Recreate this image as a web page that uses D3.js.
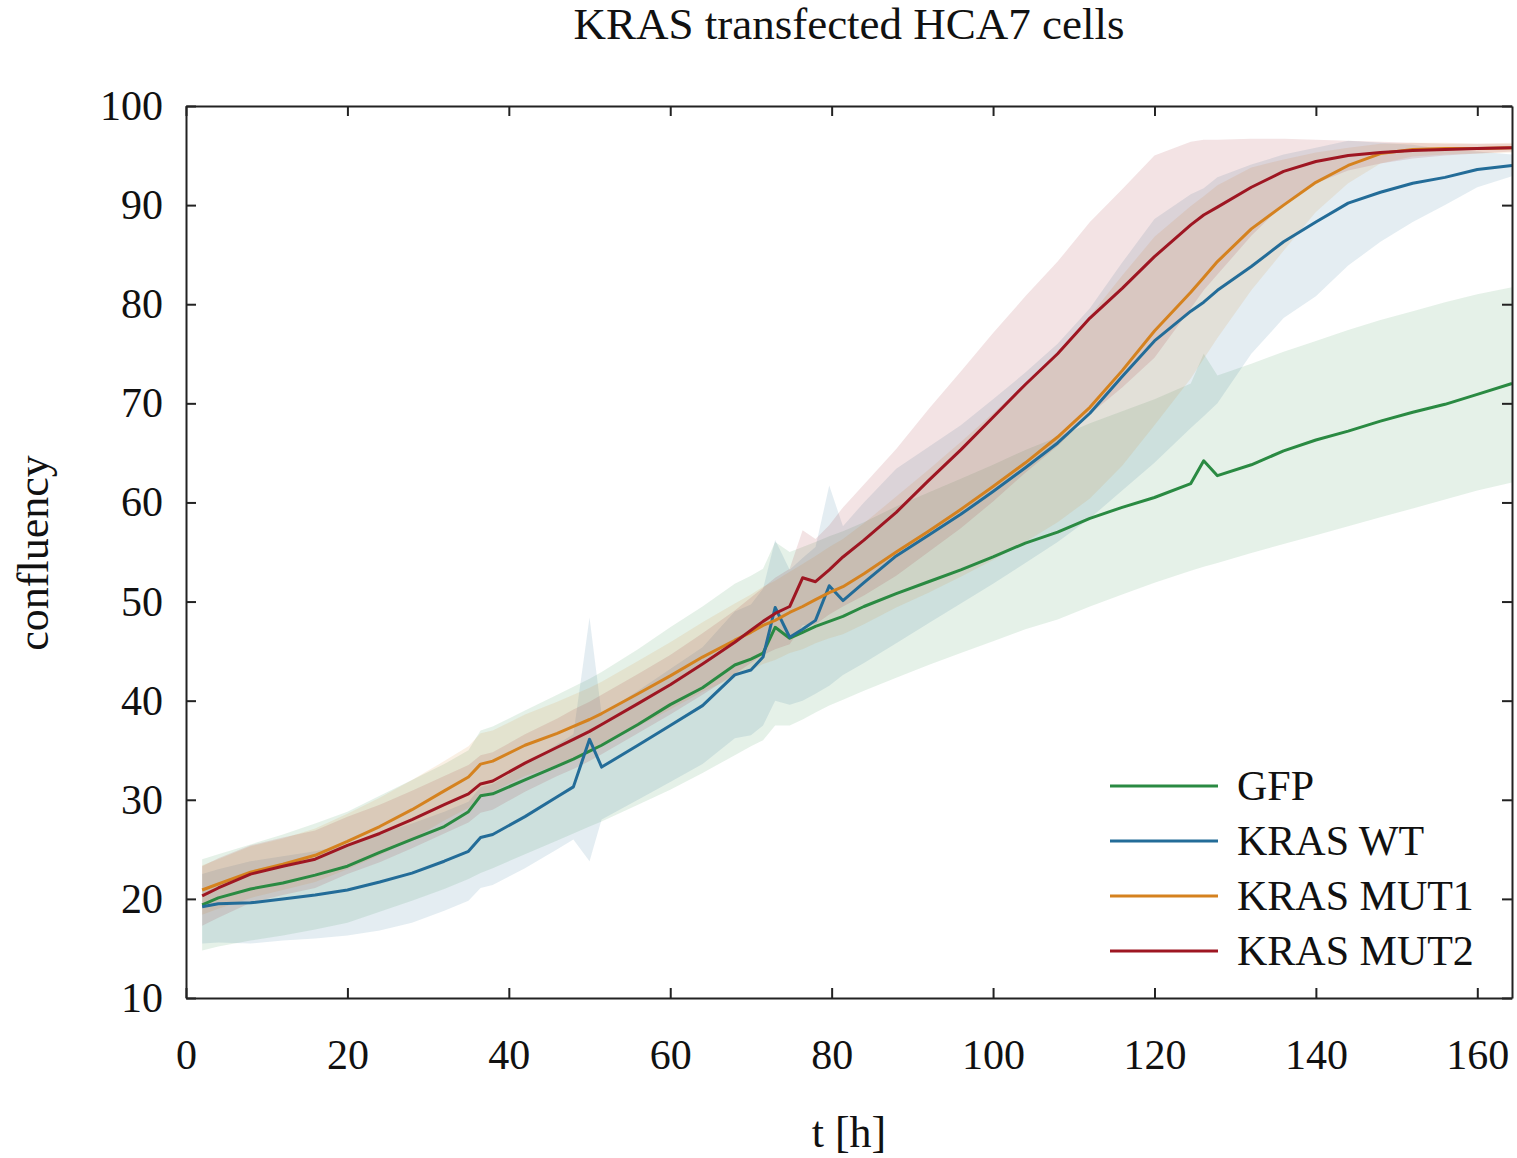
<!DOCTYPE html>
<html>
<head>
<meta charset="utf-8">
<script src="https://cdn.jsdelivr.net/npm/d3@7"></script>
<style>
  body { margin: 0; background: #fff; }
  svg text { font-family: "Palatino Linotype", Palatino, "Liberation Serif", serif; fill: #111; }
</style>
</head>
<body>
<div id="chart"></div>
<script>
// time points (h)
var times = [2, 4, 8, 12, 16, 20, 24, 28, 32, 35, 36.5, 38, 42, 46, 48, 50, 51.5, 56, 60, 64,
  68, 70, 71.5, 73, 74.8, 76.4, 78, 79.7, 81.4, 84, 88, 92, 96, 100, 104, 108, 112, 116, 120, 124.5,
  126.1, 127.8, 132, 136, 140, 144, 148, 152, 156, 160, 164.3];

// GFP
var gfpMean = [19.4, 20.1, 21.0, 21.6, 22.4, 23.3, 24.7, 26.0, 27.3, 28.8, 30.4, 30.6, 32.0, 33.4, 34.1, 34.9, 35.5, 37.6, 39.6, 41.3,
  43.6, 44.2, 44.8, 47.4, 46.3, 46.9, 47.5, 48.0, 48.5, 49.5, 50.8, 52.0, 53.2, 54.5, 55.9, 57.0, 58.4, 59.5, 60.5, 61.9,
  64.2, 62.7, 63.8, 65.2, 66.3, 67.2, 68.2, 69.1, 69.9, 70.9, 72.0];
var gfpLow = [14.8, 15.2, 15.8, 16.3, 16.9, 17.6, 18.7, 19.8, 21.0, 22.0, 22.6, 23.1, 24.5, 25.9, 26.6, 27.3, 27.8, 29.5, 31.0, 32.7,
  34.5, 35.4, 36.0, 37.5, 37.5, 38.1, 38.8, 39.5, 40.1, 41.0, 42.3, 43.6, 44.8, 46.0, 47.2, 48.2, 49.5, 50.7, 51.9, 53.1,
  53.5, 53.9, 54.9, 55.8, 56.7, 57.6, 58.5, 59.4, 60.3, 61.2, 62.0];
var gfpHigh = [24.0, 24.5, 25.5, 26.5, 27.6, 28.8, 30.4, 32.0, 33.6, 35.0, 37.0, 37.4, 39.0, 40.6, 41.4, 42.2, 42.9, 45.2, 47.4, 49.5,
  51.8, 52.6, 53.3, 56.0, 55.0, 55.5, 56.0, 56.6, 57.1, 58.0, 59.6, 61.0, 62.4, 63.8, 65.3, 66.6, 68.0, 69.2, 70.4, 72.0,
  75.0, 72.8, 74.0, 75.2, 76.3, 77.4, 78.4, 79.3, 80.2, 81.0, 81.7];

// KRAS WT
var wtMean = [19.2, 19.5, 19.6, 20.0, 20.4, 20.9, 21.7, 22.6, 23.8, 24.8, 26.2, 26.5, 28.3, 30.3, 31.3, 36.1, 33.3, 35.5, 37.5, 39.5,
  42.6, 43.1, 44.4, 49.4, 46.4, 47.2, 48.1, 51.6, 50.1, 51.9, 54.6, 56.7, 58.8, 61.1, 63.5, 66.0, 69.0, 72.7, 76.3, 79.3,
  80.2, 81.4, 83.8, 86.3, 88.3, 90.2, 91.3, 92.2, 92.8, 93.6, 94.0];
var wtLow = [15.5, 15.6, 15.5, 15.8, 16.0, 16.3, 16.8, 17.6, 18.8, 19.8, 21.1, 21.4, 23.1, 25.0, 26.0, 23.8, 28.0, 30.0, 31.8, 33.6,
  36.2, 36.5, 37.5, 40.0, 39.6, 40.0, 40.7, 41.5, 42.6, 43.8, 45.8, 47.8, 49.8, 51.8, 53.9, 56.0, 58.4, 61.2, 64.0, 67.5,
  68.7, 70.0, 75.0, 78.6, 80.8, 83.9, 86.3, 88.3, 90.0, 91.8, 92.9];
var wtHigh = [22.5, 23.0, 23.8, 24.3, 24.8, 25.5, 26.6, 27.6, 28.8, 29.8, 31.3, 31.6, 33.5, 35.6, 36.6, 48.4, 38.6, 41.0, 43.2, 45.4,
  49.0, 49.7, 51.3, 56.2, 53.2, 54.4, 55.5, 61.7, 57.6, 60.0, 63.4, 65.6, 67.8, 70.4, 73.1, 76.0, 79.6, 84.2, 88.6, 91.1,
  91.7, 92.8, 94.1, 95.1, 95.8, 96.5, 96.3, 96.1, 95.6, 95.4, 95.1];

// KRAS MUT1
var mut1Mean = [20.9, 21.5, 22.7, 23.5, 24.4, 25.8, 27.3, 29.0, 30.9, 32.3, 33.6, 33.9, 35.5, 36.7, 37.4, 38.1, 38.7, 40.7, 42.5, 44.4,
  46.1, 46.9, 47.6, 48.1, 48.9, 49.5, 50.2, 50.9, 51.5, 52.8, 55.0, 57.1, 59.3, 61.6, 64.0, 66.6, 69.6, 73.3, 77.3, 81.2,
  82.7, 84.3, 87.6, 90.0, 92.3, 94.0, 95.2, 95.6, 95.7, 95.7, 95.8];
var mut1Low = [18.4, 19.0, 20.1, 20.9, 21.7, 23.0, 24.4, 26.0, 27.9, 29.2, 30.5, 30.8, 32.4, 33.5, 34.2, 34.9, 35.5, 37.4, 39.1, 40.9,
  42.4, 43.1, 43.7, 44.1, 44.8, 45.2, 45.8, 46.3, 46.7, 47.7, 49.4, 50.9, 52.5, 54.2, 56.0, 58.0, 60.4, 63.7, 67.8, 72.5,
  74.5, 76.6, 81.4, 85.4, 89.3, 92.2, 94.2, 94.9, 95.1, 95.2, 95.3];
var mut1High = [23.4, 24.0, 25.3, 26.1, 27.1, 28.6, 30.2, 32.0, 33.9, 35.4, 36.7, 37.0, 38.6, 39.9, 40.6, 41.3, 41.9, 44.0, 45.9, 47.9,
  49.8, 50.7, 51.5, 52.1, 53.0, 53.8, 54.6, 55.5, 56.3, 57.9, 60.6, 63.3, 66.1, 69.0, 72.0, 75.2, 78.8, 82.9, 86.8, 89.9,
  90.9, 92.0, 93.8, 94.6, 95.3, 95.8, 96.2, 96.3, 96.3, 96.2, 96.3];

// KRAS MUT2
var mut2Mean = [20.3, 21.1, 22.5, 23.3, 24.0, 25.4, 26.6, 28.0, 29.5, 30.6, 31.6, 31.9, 33.7, 35.3, 36.1, 36.9, 37.6, 39.7, 41.6, 43.7,
  45.9, 47.1, 48.0, 48.8, 49.5, 52.4, 52.0, 53.2, 54.5, 56.2, 59.0, 62.2, 65.3, 68.6, 71.9, 75.0, 78.6, 81.6, 84.8, 88.0,
  89.0, 89.8, 91.8, 93.4, 94.4, 95.0, 95.3, 95.5, 95.6, 95.7, 95.8];
var mut2Low = [17.3, 18.1, 19.6, 20.4, 21.1, 22.5, 23.7, 25.1, 26.6, 27.7, 28.7, 29.0, 30.8, 32.4, 33.1, 33.9, 34.6, 36.7, 38.6, 40.6,
  42.7, 43.8, 44.6, 45.2, 45.7, 47.6, 47.7, 48.7, 49.5, 50.6, 52.6, 55.0, 57.4, 60.1, 63.0, 65.7, 68.9, 71.6, 74.6, 79.6,
  81.4, 83.0, 86.9, 90.1, 92.2, 93.5, 94.2, 94.7, 95.0, 95.2, 95.4];
var mut2High = [23.3, 24.1, 25.4, 26.2, 26.9, 28.3, 29.5, 30.9, 32.4, 33.5, 34.5, 34.8, 36.6, 38.2, 39.1, 39.9, 40.6, 42.7, 44.6, 46.8,
  49.1, 50.4, 51.4, 52.4, 53.3, 57.2, 56.3, 57.7, 59.5, 61.8, 65.4, 69.4, 73.2, 77.1, 80.8, 84.3, 88.3, 91.6, 95.0, 96.4,
  96.6, 96.6, 96.7, 96.7, 96.6, 96.5, 96.4, 96.3, 96.2, 96.2, 96.2];

var seriesNames = ["GFP", "KRAS WT", "KRAS MUT1", "KRAS MUT2"];
var seriesColors = ["#2a8a42", "#236c98", "#d5821f", "#9e1622"];
var xTicks = [0, 20, 40, 60, 80, 100, 120, 140, 160];
var yTicks = [10, 20, 30, 40, 50, 60, 70, 80, 90, 100];

var series = [
  { mean: gfpMean, low: gfpLow, high: gfpHigh },
  { mean: wtMean, low: wtLow, high: wtHigh },
  { mean: mut1Mean, low: mut1Low, high: mut1High },
  { mean: mut2Mean, low: mut2Low, high: mut2High }
].map(function(s, i) {
  return {
    name: seriesNames[i],
    color: seriesColors[i],
    values: times.map(function(t, j) { return { t: t, m: s.mean[j], lo: s.low[j], hi: s.high[j] }; })
  };
});

var width = 1517,
    height = 1158,
    margin = { top: 106, right: 5, bottom: 160, left: 186 };

var svg = d3.select("#chart").append("svg")
  .attr("width", width)
  .attr("height", height);

var x = d3.scaleLinear()
  .domain([0, 164.3])
  .range([margin.left, width - margin.right]);

var y = d3.scaleLinear()
  .domain([10, 100])
  .range([height - margin.bottom, margin.top]);

var area = d3.area()
  .x(d => x(d.t))
  .y0(d => y(d.lo))
  .y1(d => y(d.hi));

var line = d3.line()
  .x(d => x(d.t))
  .y(d => y(d.m));

svg.selectAll(".band")
  .data(series)
  .enter().append("path")
    .attr("class", "band")
    .attr("fill", d => d.color)
    .attr("fill-opacity", 0.12)
    .attr("d", d => area(d.values));

svg.selectAll(".mean")
  .data(series)
  .enter().append("path")
    .attr("class", "mean")
    .attr("fill", "none")
    .attr("stroke", d => d.color)
    .attr("stroke-width", 3)
    .attr("stroke-linejoin", "round")
    .attr("d", d => line(d.values));

// axes, ticks pointing inwards on all four sides
function styleAxis(g) {
  g.select(".domain").attr("stroke", "#222").attr("stroke-width", 2);
  g.selectAll(".tick line").attr("stroke", "#222").attr("stroke-width", 2);
  g.selectAll(".tick text").attr("font-size", 42).attr("fill", "#111");
}

svg.append("g")
  .attr("transform", `translate(0,${y(10)})`)
  .call(d3.axisBottom(x).tickValues(xTicks).tickSize(-10).tickSizeOuter(0).tickPadding(41))
  .call(styleAxis);

svg.append("g")
  .attr("transform", `translate(0,${y(100)})`)
  .call(d3.axisTop(x).tickValues(xTicks).tickSize(-10).tickSizeOuter(0).tickFormat(""))
  .call(styleAxis);

svg.append("g")
  .attr("transform", `translate(${x(0)},0)`)
  .call(d3.axisLeft(y).tickValues(yTicks).tickSize(-10).tickSizeOuter(0).tickPadding(23))
  .call(styleAxis);

svg.append("g")
  .attr("transform", `translate(${x(164.3)},0)`)
  .call(d3.axisRight(y).tickValues(yTicks).tickSize(-10).tickSizeOuter(0).tickFormat(""))
  .call(styleAxis);

svg.selectAll(".domain").attr("font-family", null);

// title and axis labels
svg.append("text")
  .attr("x", 849)
  .attr("y", 39)
  .attr("text-anchor", "middle")
  .attr("font-size", 45)
  .text("KRAS transfected HCA7 cells");

svg.append("text")
  .attr("x", 849)
  .attr("y", 1147)
  .attr("text-anchor", "middle")
  .attr("font-size", 44)
  .text("t [h]");

svg.append("text")
  .attr("transform", "translate(48,553) rotate(-90)")
  .attr("text-anchor", "middle")
  .attr("font-size", 44)
  .text("confluency");

// legend
var legend = svg.selectAll(".legend")
  .data(series)
  .enter().append("g")
    .attr("class", "legend")
    .attr("transform", (d, i) => `translate(1110,${786 + i * 55})`);

legend.append("line")
  .attr("x1", 0)
  .attr("x2", 108)
  .attr("stroke", d => d.color)
  .attr("stroke-width", 3);

legend.append("text")
  .attr("x", 127)
  .attr("y", 14)
  .attr("font-size", 42)
  .text(d => d.name);
</script>
</body>
</html>
